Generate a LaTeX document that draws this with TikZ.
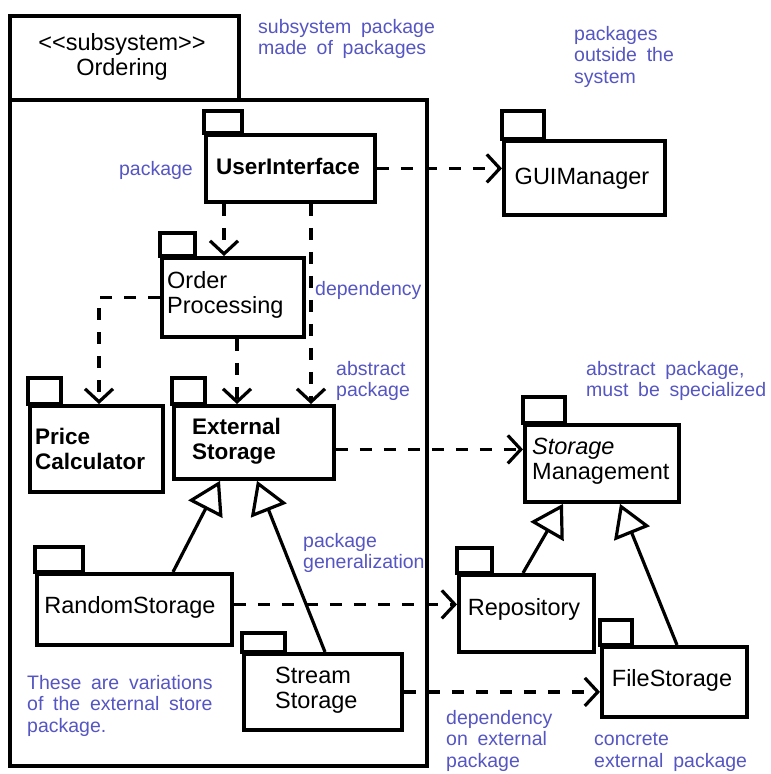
\documentclass[tikz,border=0pt]{standalone}
\usepackage{fontspec}
\setmainfont{Liberation Sans}
\newfontfamily\notefont{Liberation Sans}[WordSpace=1.8]
\usetikzlibrary{arrows.meta}
\definecolor{notecol}{RGB}{85,85,195}
\tikzset{
  body/.style={draw, line width=3.8pt, fill=white, inner sep=0pt, anchor=north west},
  tabbox/.style={draw, line width=3.8pt, fill=white},
  dep/.style={draw, line width=3.2pt, dash pattern=on 12pt off 12pt,
    -{Straight Barb[length=13pt, width=28pt, line width=3.2pt]}},
  gen/.style={draw, line width=3.2pt,
    -{Triangle[open, length=32pt, width=38pt, line width=3.2pt, fill=white]}},
  pname/.style={font=\fontsize{23.5}{25}\selectfont, align=left, inner sep=0pt},
  bname/.style={font=\bfseries\fontsize{22.5}{25}\selectfont, align=left, inner sep=0pt},
  note/.style={text=notecol, font=\notefont\fontsize{19.5}{21.5}\selectfont, align=left, inner sep=0pt, anchor=north west},
}
% name, x1, y1, x2, y2, tab width, tab height
\newcommand\pkgbox[7]{%
  \draw[tabbox] (#2,#3) rectangle ++(#6,#7);
  \node[body, minimum width={#4pt-#2pt}, minimum height={#5pt-#3pt}] (#1) at (#2,#3) {};
}
\begin{document}
\begin{tikzpicture}[x=1pt, y=-1pt]
\useasboundingbox (0,0) rectangle (771,774);

% subsystem
\node[body, minimum width=417pt, minimum height=666pt] (sub) at (8,98) {};
\node[body, minimum width=229pt, minimum height=84pt] (subl) at (8,14) {};
\node[pname, align=center] (subt) at (122,57) {<\kern0pt<subsystem>\kern0pt>\\Ordering};

% packages
\pkgbox{ui}{204}{133}{373}{200}{38}{-22}
\pkgbox{op}{160}{256}{302}{335}{35}{-23}
\pkgbox{pc}{28}{404}{161}{490}{33}{-26}
\pkgbox{es}{172}{404}{332}{477}{33}{-26}
\pkgbox{gui}{502}{139}{663}{213}{42}{-28}
\pkgbox{sm}{523}{423}{677}{500}{42}{-26}
\pkgbox{rs}{35}{572}{230}{643}{48}{-25}
\pkgbox{ss}{242}{652}{400}{728}{43}{-19}
\pkgbox{rep}{457}{573}{592}{650}{35}{-25}
\pkgbox{fs}{600}{645}{745}{715}{32}{-25}

\node[bname] (uit) at (288,166) {UserInterface};
\node[pname, anchor=west] (opt) at (167,295) {Order\\Processing};
\node[bname, anchor=west] (pct) at (35,449) {Price\\Calculator};
\node[bname, anchor=west] (est) at (192,441) {External\\Storage};
\node[pname] (guit) at (582,179) {GUIManager};
\node[pname, anchor=west] (smt) at (532,461) {\textit{Storage}\\Management};
\node[pname] (rst) at (130,607) {RandomStorage};
\node[pname, anchor=west] (sst) at (275,690) {Stream\\Storage};
\node[pname] (rept) at (524,609) {Repository};
\node[pname] (fst) at (672,680) {FileStorage};

% dependencies
\draw[dep] (ui.east) -- (ui.east -| gui.west);
\draw[dep] ([xshift=20pt]ui.south west) -- ([xshift=20pt]ui.south west |- op.north);
\draw[dep] ([xshift=107pt]ui.south west) -- ([xshift=107pt]ui.south west |- es.north);
\draw[dep] (op.west) -| ([xshift=71pt]pc.north west);
\draw[dep] ([xshift=77pt]op.south west) -- ([xshift=77pt]op.south west |- es.north);
\draw[dep] ([yshift=-7pt]es.east) -- ([yshift=-7pt]es.east -| sm.west);
\draw[dep] ([yshift=5pt]rs.east) -- ([yshift=5pt]rs.east -| rep.west);
\draw[dep] (ss.east) -- (ss.east -| fs.west);

% generalizations
\draw[gen] ([xshift=138pt]rs.north west) -- ([xshift=48pt]es.south west);
\draw[gen] ([xshift=83pt]ss.north west) -- ([xshift=85pt]es.south west);
\draw[gen] ([xshift=66pt]rep.north west) -- ([xshift=40pt]sm.south west);
\draw[gen] ([xshift=77pt]fs.north west) -- ([xshift=97pt]sm.south west);

% notes
\node[note] (n1) at (258,19) {subsystem package\\made of packages};
\node[note] (n2) at (574,26) {packages\\outside the\\system};
\node[note, anchor=north east] (n3) at (193,161) {package};
\node[note] (n4) at (315,281) {dependency};
\node[note] (n5) at (336,361) {abstract\\package};
\node[note] (n6) at (586,361) {abstract package,\\must be specialized};
\node[note] (n7) at (303,533) {package\\generalization};
\node[note] (n8) at (27,675) {These are variations\\of the external store\\package.};
\node[note] (n9) at (446,710) {dependency\\on external\\package};
\node[note] (n10) at (594,733) {concrete\\external package};
\end{tikzpicture}
\end{document}
